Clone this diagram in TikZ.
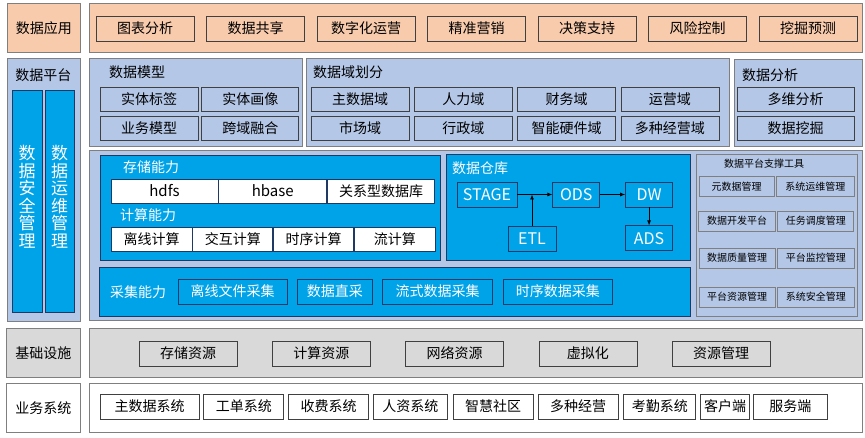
\documentclass[tikz,border=0pt]{standalone}
\usepackage{fontspec}
\setmainfont{Noto Sans CJK SC}
\usepackage{xcolor}
\usepackage{tikz}
\usetikzlibrary{arrows.meta,positioning}

\definecolor{peach}{HTML}{F8CBAD}
\definecolor{paleblue}{HTML}{B4C7E7}
\definecolor{skyblue}{HTML}{00A2E8}
\definecolor{infragray}{HTML}{D9D9D9}
\definecolor{edgegray}{HTML}{7F7F7F}
\definecolor{darkedge}{HTML}{404040}
\definecolor{navyedge}{HTML}{1F3864}

\begin{document}
\begin{tikzpicture}[
    x=1pt, y=-1pt,
    node distance=5pt and 5pt,
    font=\fontsize{14}{16}\selectfont,
    panel/.style={rectangle, draw=edgegray, line width=0.9pt, anchor=north west, inner sep=0pt},
    bluepanel/.style={panel, draw=navyedge, fill=skyblue},
    item/.style={rectangle, draw=darkedge, line width=0.8pt, minimum height=25, inner sep=0pt},
    appitem/.style={item, fill=peach, minimum width=98},
    pbox/.style={item, fill=paleblue, minimum height=24},
    cell/.style={item, draw=navyedge, fill=white, minimum height=24},
    bluebox/.style={item, draw=navyedge, fill=skyblue, text=white},
    tool/.style={item, draw=edgegray, fill=paleblue, minimum height=20, font=\fontsize{10}{12}\selectfont},
    paneltitle/.style={anchor=west, inner sep=0pt},
    vbar/.style={panel, draw=navyedge, fill=skyblue, minimum width=30, minimum height=222},
    vtext/.style={align=center, text=white, inner sep=0pt, font=\fontsize{17}{17.5}\selectfont},
    arrow/.style={-{Latex[length=5pt,width=4pt]}, line width=0.8pt}
]
\useasboundingbox (0,0) rectangle (865,438);

% Application layer
\node[panel, fill=peach, minimum width=73, minimum height=49] (applab) at (7,3) {数据应用};
\node[panel, fill=peach, minimum width=773, minimum height=49] (app) at (89,3) {};
\node[appitem] (app1) at (145,28.5) {图表分析};
\node[appitem, right=11.7pt of app1] (app2) {数据共享};
\node[appitem, right=11.7pt of app2] (app3) {数字化运营};
\node[appitem, right=11.7pt of app3] (app4) {精准营销};
\node[appitem, right=11.7pt of app4] (app5) {决策支持};
\node[appitem, right=11.7pt of app5] (app6) {风险控制};
\node[appitem, right=11.7pt of app6] (app7) {挖掘预测};

% Platform label and side bars
\node[panel, fill=paleblue, minimum width=73, minimum height=263] (platlab) at (7,58) {};
\node (platt) at (43.5,75) {数据平台};
\node[vbar] (secbar) at (12,90) {};
\node[vbar, minimum width=29] (opsbar) at (45,90) {};
\node[vtext] (sect) at (27,197) {数\\据\\安\\全\\管\\理};
\node[vtext] (opst) at (59.5,197) {数\\据\\运\\维\\管\\理};

% Data model
\node[panel, fill=paleblue, minimum width=213, minimum height=88] (model) at (89,58) {};
\node[paneltitle] (modelt) at (109,72) {数据模型};
\node[pbox, minimum width=98] (dm1) at (149,99) {实体标签};
\node[pbox, minimum width=97, right=3pt of dm1] (dm2) {实体画像};
\node[pbox, minimum width=98, below=4.5pt of dm1] (dm3) {业务模型};
\node[pbox, minimum width=97, right=3pt of dm3] (dm4) {跨域融合};

% Data domains
\node[panel, fill=paleblue, minimum width=423, minimum height=88] (domain) at (306,58) {};
\node[paneltitle] (domaint) at (313,72) {数据域划分};
\node[pbox, minimum width=98] (dom1) at (360,99) {主数据域};
\node[pbox, minimum width=98, right=4.5pt of dom1] (dom2) {人力域};
\node[pbox, minimum width=98, right=4.5pt of dom2] (dom3) {财务域};
\node[pbox, minimum width=98, right=4.5pt of dom3] (dom4) {运营域};
\node[pbox, minimum width=98, below=4.5pt of dom1] (dom5) {市场域};
\node[pbox, minimum width=98, right=4.5pt of dom5] (dom6) {行政域};
\node[pbox, minimum width=98, right=4.5pt of dom6] (dom7) {智能硬件域};
\node[pbox, minimum width=98, right=4.5pt of dom7] (dom8) {多种经营域};

% Data analysis
\node[panel, fill=paleblue, minimum width=128, minimum height=87] (analysis) at (734,59) {};
\node[paneltitle] (analysist) at (742,75) {数据分析};
\node[pbox, minimum width=117] (an1) at (795.5,99) {多维分析};
\node[pbox, minimum width=117, below=4.5pt of an1] (an2) {数据挖掘};

% Platform core
\node[panel, fill=paleblue, minimum width=773, minimum height=170] (core) at (89,150) {};

% Storage and compute
\node[bluepanel, minimum width=340, minimum height=105] (store) at (100,155) {};
\node[paneltitle, text=white] (storet) at (123,167) {存储能力};
\node[cell, minimum width=107, font=\fontsize{15}{17}\selectfont] (hdfs) at (164.5,191) {hdfs};
\node[cell, minimum width=108, font=\fontsize{15}{17}\selectfont, right=0pt of hdfs] (hbase) {hbase};
\node[cell, minimum width=107, right=0pt of hbase] (rdb) {关系型数据库};
\node[paneltitle, text=white] (computet) at (120,215) {计算能力};
\node[cell, minimum width=81] (cp1) at (151.5,239) {离线计算};
\node[cell, minimum width=80, right=0pt of cp1] (cp2) {交互计算};
\node[cell, minimum width=80, right=0pt of cp2] (cp3) {时序计算};
\node[cell, minimum width=81, right=0pt of cp3] (cp4) {流计算};

% Collection
\node[bluepanel, minimum width=591, minimum height=49] (collect) at (99,267) {};
\node[paneltitle, text=white] (collectt) at (110,292) {采集能力};
\node[bluebox, minimum width=109] (col1) at (232.5,291.5) {离线文件采集};
\node[bluebox, minimum width=75, right=9.5pt of col1] (col2) {数据直采};
\node[bluebox, minimum width=110, right=9.5pt of col2] (col3) {流式数据采集};
\node[bluebox, minimum width=109, right=10pt of col3] (col4) {时序数据采集};

% Data warehouse
\node[bluepanel, minimum width=244, minimum height=106] (dwh) at (446,154) {};
\node[paneltitle, text=white] (dwht) at (452,168) {数据仓库};
\node[bluebox, minimum width=60, font=\fontsize{16}{18}\selectfont] (stage) at (487,194.5) {STAGE};
\node[bluebox, minimum width=47, font=\fontsize{16}{18}\selectfont, right=35pt of stage] (ods) {ODS};
\node[bluebox, minimum width=47, font=\fontsize{16}{18}\selectfont, right=25pt of ods] (dw) {DW};
\node[bluebox, minimum width=47, font=\fontsize{16}{18}\selectfont, below=18pt of dw] (ads) {ADS};
\node[bluebox, minimum width=48, font=\fontsize{16}{18}\selectfont] (etl) at (532,238.5) {ETL};

\draw[arrow] (stage) -- (ods);
\draw[arrow] (ods) -- (dw);
\draw[arrow] (dw) -- (ads);
\draw[arrow] (etl) -- (etl.north |- stage.east);

% Support tools
\node[panel, fill=paleblue, minimum width=161, minimum height=162] (tools) at (696,154) {};
\node[font=\fontsize{10}{12}\selectfont] (toolst) at (764,164) {数据平台支撑工具};
\node[tool, minimum width=75] (tl1) at (736.5,186.5) {元数据管理};
\node[tool, minimum width=78, right=1.5pt of tl1] (tl2) {系统运维管理};
\node[tool, minimum width=77] (tl3) at (737,221) {数据开发平台};
\node[tool, minimum width=76, right=1.5pt of tl3] (tl4) {任务调度管理};
\node[tool, minimum width=76] (tl5) at (737,258) {数据质量管理};
\node[tool, minimum width=77, right=1.5pt of tl5] (tl6) {平台监控管理};
\node[tool, minimum width=76] (tl7) at (737,297) {平台资源管理};
\node[tool, minimum width=77, right=1.5pt of tl7] (tl8) {系统安全管理};

% Infrastructure
\node[panel, fill=infragray, minimum width=74, minimum height=49] (infralab) at (6,328) {基础设施};
\node[panel, fill=infragray, minimum width=773, minimum height=49] (infra) at (89,328) {};
\node[item, fill=infragray, minimum width=98] (inf1) at (188,353.5) {存储资源};
\node[item, fill=infragray, minimum width=98, right=34.5pt of inf1] (inf2) {计算资源};
\node[item, fill=infragray, minimum width=98, right=34.5pt of inf2] (inf3) {网络资源};
\node[item, fill=infragray, minimum width=98, right=34.5pt of inf3] (inf4) {虚拟化};
\node[item, fill=infragray, minimum width=98, right=34.5pt of inf4] (inf5) {资源管理};

% Business systems
\node[panel, fill=white, minimum width=74, minimum height=49] (bizlab) at (6,383) {业务系统};
\node[panel, fill=white, minimum width=773, minimum height=49] (biz) at (89,383) {};
\node[item, fill=white, minimum width=99] (bz1) at (149.5,406.5) {主数据系统};
\node[item, fill=white, minimum width=80, right=4pt of bz1] (bz2) {工单系统};
\node[item, fill=white, minimum width=80, right=4pt of bz2] (bz3) {收费系统};
\node[item, fill=white, minimum width=74, right=4pt of bz3] (bz4) {人资系统};
\node[item, fill=white, minimum width=80, right=5pt of bz4] (bz5) {智慧社区};
\node[item, fill=white, minimum width=80, right=4pt of bz5] (bz6) {多种经营};
\node[item, fill=white, minimum width=72, right=5pt of bz6] (bz7) {考勤系统};
\node[item, fill=white, minimum width=49, right=4pt of bz7] (bz8) {客户端};
\node[item, fill=white, minimum width=74, right=3pt of bz8] (bz9) {服务端};

\end{tikzpicture}
\end{document}
